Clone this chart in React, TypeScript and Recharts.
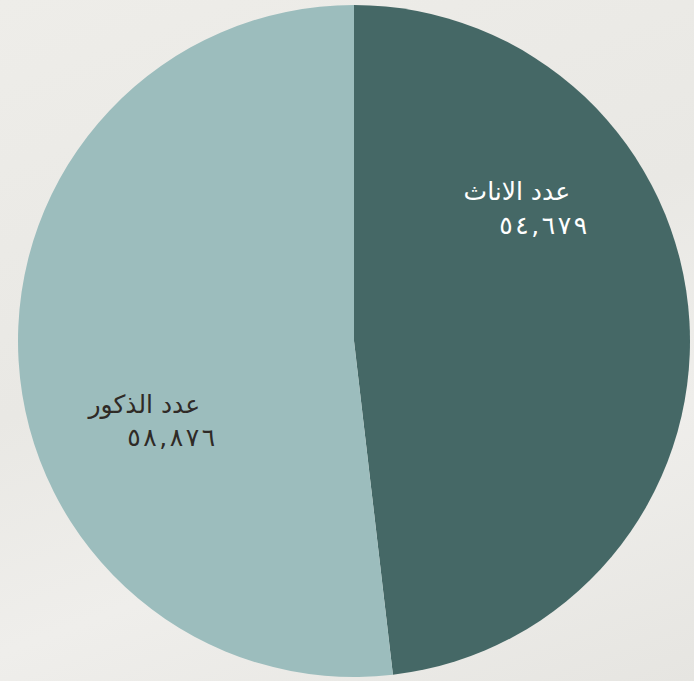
import { Pie, PieChart, Cell } from 'recharts';

const categories = ['عدد الاناث', 'عدد الذكور'];
const counts = [54679, 58876];
const countLabels = ['٥٤,٦٧٩', '٥٨,٨٧٦'];

const COLORS = ['#456866', '#9cbdbd'];
const LABEL_COLORS = ['#ffffff', '#2f2a26'];

// Label anchors as fractions of the radius, relative to the pie centre
// (right edge of each line, since the text is right-aligned).
const LABEL_POS = [
  { title: [0.643, -0.445], value: [0.694, -0.345] },
  { title: [-0.458, 0.188], value: [-0.413, 0.288] },
];

const data = categories.map((name, i) => ({ name, value: counts[i], label: countLabels[i] }));

interface LabelProps {
  cx: number;
  cy: number;
  outerRadius: number;
  index: number;
}

function SliceLabel({ cx, cy, outerRadius, index }: LabelProps) {
  const pos = LABEL_POS[index];
  const d = data[index];
  const font = '"DejaVu Sans", sans-serif';
  return (
    <g>
      <text
        x={cx + pos.title[0] * outerRadius}
        y={cy + pos.title[1] * outerRadius}
        textAnchor="end"
        dominantBaseline="central"
        fill={LABEL_COLORS[index]}
        style={{ fontFamily: font, fontSize: 25 }}
      >
        {d.name}
      </text>
      {/* the digit line runs wider in the original, so stretch its spacing */}
      <text
        x={cx + pos.value[0] * outerRadius}
        y={cy + pos.value[1] * outerRadius}
        textAnchor="end"
        dominantBaseline="central"
        fill={LABEL_COLORS[index]}
        textLength={88}
        lengthAdjust="spacing"
        style={{ fontFamily: font, fontSize: 25 }}
      >
        {d.label}
      </text>
    </g>
  );
}

export default function App() {
  return (
    <div
      style={{
        position: 'absolute',
        left: 0,
        top: 0,
        width: 694,
        height: 681,
        background: 'linear-gradient(160deg, #eeede9 0%, #e9e8e4 45%, #efeeeb 70%, #e6e5e1 100%)',
        overflow: 'hidden',
      }}
    >
      <PieChart width={694} height={681} margin={{ top: 0, right: 0, bottom: 0, left: 0 }}>
        <Pie
          data={data}
          dataKey="value"
          nameKey="name"
          cx={354}
          cy={341}
          outerRadius={336}
          startAngle={90}
          endAngle={-270}
          stroke="none"
          labelLine={false}
          label={(p: any) => <SliceLabel {...p} />}
          isAnimationActive={false}
        >
          {data.map((d, i) => (
            <Cell key={d.name} fill={COLORS[i]} />
          ))}
        </Pie>
      </PieChart>
    </div>
  );
}
